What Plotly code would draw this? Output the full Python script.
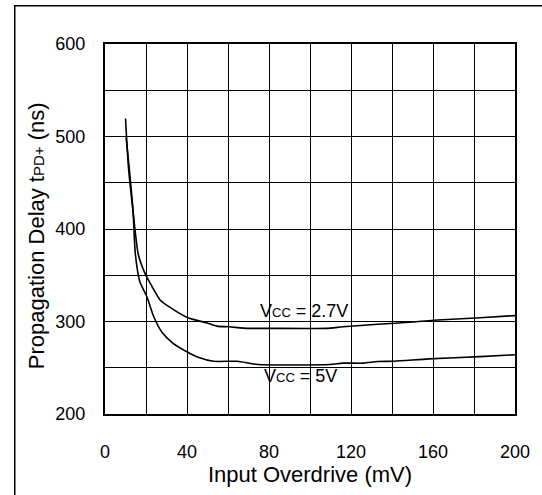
import plotly.graph_objects as go

# Data
overdrive_27 = [10, 11.5, 13.7, 16.2, 19.5, 22.9, 27, 31.2, 40.4, 49.5, 54.5, 60.4, 69.6, 79.6, 108, 116, 133, 150, 160, 183, 200]
delay_27 = [519.5, 465, 419, 373, 352, 338, 323, 316, 304, 298.6, 295, 294.3, 292.6, 292.6, 292.6, 294.3, 297, 299.4, 301.4, 304, 306.4]

overdrive_5 = [10.3, 12, 13.7, 14.8, 17, 20.4, 23.7, 27.9, 32.9, 40.4, 45.4, 52.9, 64.6, 74.6, 109.6, 116, 126, 133, 141, 158, 183, 200]
delay_5 = [499, 461.7, 419, 373, 343, 327, 305.7, 288, 277, 266.7, 261.3, 257, 257, 253.5, 253.5, 255, 255, 256.7, 257, 259.6, 262, 264]

x_ticks = [0, 40, 80, 120, 160, 200]
y_ticks = [200, 300, 400, 500, 600]

W, H = 542, 495
ML, MR, MT, MB = 105, 22, 44, 76
PW, PH = W - ML - MR, H - MT - MB

FONT = "Liberation Sans, Arial, sans-serif"

fig = go.Figure()
fig.add_trace(go.Scatter(x=overdrive_27, y=delay_27, mode="lines",
                         line=dict(color="black", width=1.6, shape="spline", smoothing=0.6),
                         showlegend=False, hoverinfo="skip"))
fig.add_trace(go.Scatter(x=overdrive_5, y=delay_5, mode="lines",
                         line=dict(color="black", width=1.6, shape="spline", smoothing=0.6),
                         showlegend=False, hoverinfo="skip"))

fig.update_xaxes(range=[0, 200], tickvals=list(range(0, 201, 20)),
                 ticktext=[str(v) if v in x_ticks else "" for v in range(0, 201, 20)],
                 showgrid=True, gridcolor="black", gridwidth=1,
                 showline=True, linecolor="black", linewidth=2, mirror=True,
                 ticks="outside", ticklen=20, tickcolor="rgba(0,0,0,0)",
                 tickfont=dict(family=FONT, size=18, color="black"),
                 zeroline=False, fixedrange=True,
                 title=dict(text="Input Overdrive (mV)", font=dict(family=FONT, size=22, color="black"), standoff=6))
fig.update_yaxes(range=[200, 600], tickvals=list(range(200, 601, 50)),
                 ticktext=[str(v) if v in y_ticks else "" for v in range(200, 601, 50)],
                 showgrid=True, gridcolor="black", gridwidth=1,
                 showline=True, linecolor="black", linewidth=2, mirror=True,
                 ticks="outside", ticklen=14, tickcolor="rgba(0,0,0,0)",
                 tickfont=dict(family=FONT, size=18, color="black"),
                 zeroline=False, fixedrange=True)

fig.add_annotation(xref="paper", yref="paper", x=(36 - ML) / PW, y=1 - (238 - MT) / PH,
                   text="Propagation Delay t<span style='font-size:15px'>PD+</span> (ns)",
                   textangle=-90, showarrow=False, xanchor="center", yanchor="middle",
                   font=dict(family=FONT, size=22, color="black"))

fig.add_annotation(x=97.3, y=311, xref="x", yref="y",
                   text="V<span style='font-size:13px'>CC</span> = 2.7V", showarrow=False,
                   font=dict(family=FONT, size=18, color="black"))
fig.add_annotation(x=95.4, y=241.6, xref="x", yref="y",
                   text="V<span style='font-size:13px'>CC</span> = 5V", showarrow=False,
                   font=dict(family=FONT, size=18, color="black"))

# outer frame (left and top edges visible; right/bottom fall outside the page)
fx0 = (13 - ML) / PW
fy1 = 1 + (MT - 4) / PH
fig.add_annotation(xref="paper", yref="paper", x=fx0, y=fy1, xanchor="left", yanchor="top",
                   text=" ", showarrow=False, width=700, height=700,
                   bordercolor="black", borderwidth=1.5, borderpad=0)

fig.update_layout(width=W, height=H, margin=dict(l=ML, r=MR, t=MT, b=MB),
                  paper_bgcolor="white", plot_bgcolor="white",
                  font=dict(family=FONT, color="black"))

fig.write_html("out.html", config={"displayModeBar": False},
               post_script="document.body.style.margin='0';document.body.style.padding='0';")
